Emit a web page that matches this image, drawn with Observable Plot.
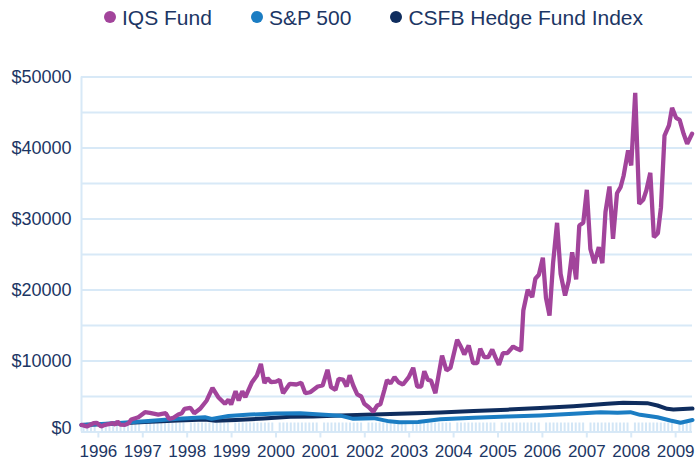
<!DOCTYPE html>
<html>
<head>
<meta charset="utf-8">
<script src="https://cdn.jsdelivr.net/npm/d3@7"></script>
<script src="https://cdn.jsdelivr.net/npm/@observablehq/plot@0.6"></script>
<style>
  html, body { margin: 0; padding: 0; background: #fff; }
  #chart { width: 697px; height: 462px; overflow: hidden; }
  #legend { height: 40px; display: flex; align-items: center; padding-left: 104px;
            font: 21px "Liberation Sans", Arial, sans-serif; color: #1c3664; box-sizing: border-box; }
  .item { display: flex; align-items: center; margin-right: 39px; position: relative; top: -2px; }
  .dot { width: 12px; height: 12px; border-radius: 50%; margin-right: 6px; position: relative; top: -1px; }
  .label { display: inline-block; white-space: nowrap; }
  svg { display: block; }
</style>
</head>
<body>
<div id="chart">
  <div id="legend"></div>
  <div id="plot"></div>
</div>
<script>
// ---- Series names & colours ----
const seriesNames = ["IQS Fund", "S&P 500", "CSFB Hedge Fund Index"];
const seriesColors = ["#a2449b", "#1b7dc3", "#0f2d5e"];

// ---- IQS Fund (decimal year, value $) ----
const iqsYears = [1995.62,1995.74,1995.89,1995.96,1996.06,1996.15,1996.26,1996.32,1996.38,1996.43,1996.49,1996.60,1996.68,1996.74,1996.83,1996.90,1997.05,1997.16,1997.35,1997.43,1997.52,1997.59,1997.69,1997.80,1997.88,1997.94,1998.07,1998.16,1998.29,1998.44,1998.57,1998.70,1998.85,1998.93,1998.99,1999.09,1999.16,1999.24,1999.31,1999.46,1999.57,1999.66,1999.74,1999.81,1999.89,2000.00,2000.08,2000.16,2000.31,2000.46,2000.57,2000.66,2000.77,2000.94,2001.05,2001.16,2001.24,2001.34,2001.41,2001.51,2001.59,2001.66,2001.74,2001.83,2001.92,2001.99,2002.09,2002.19,2002.28,2002.35,2002.44,2002.50,2002.58,2002.67,2002.76,2002.86,2002.99,2003.09,2003.18,2003.27,2003.34,2003.42,2003.49,2003.59,2003.74,2003.84,2003.93,2004.08,2004.17,2004.24,2004.34,2004.44,2004.53,2004.60,2004.69,2004.78,2004.87,2004.94,2005.02,2005.11,2005.21,2005.34,2005.43,2005.52,2005.57,2005.67,2005.77,2005.84,2005.92,2006.01,2006.08,2006.16,2006.24,2006.33,2006.41,2006.51,2006.59,2006.67,2006.76,2006.83,2006.92,2007.00,2007.08,2007.17,2007.27,2007.35,2007.42,2007.51,2007.59,2007.68,2007.76,2007.83,2007.93,2008.00,2008.09,2008.18,2008.27,2008.34,2008.43,2008.51,2008.60,2008.67,2008.75,2008.85,2008.92,2009.01,2009.09,2009.18,2009.26,2009.37];
const iqsValues = [1000,780,1240,1300,780,1010,1150,1240,1050,1480,1050,1010,1240,1760,1940,2080,2790,2700,2460,2560,2650,1860,2000,2460,2650,3270,3410,2650,3270,4440,6230,4900,3970,4540,3870,5750,4440,5750,4900,7010,7960,9600,6870,7580,7010,7100,7350,5460,6790,6690,6930,5460,5600,6410,6550,8760,6310,5940,7490,7390,6410,8000,6550,5300,5000,3970,3490,2850,3730,3900,5900,7300,6850,7720,7010,6690,7720,9040,6410,6410,8560,7350,7250,5460,10770,8660,9040,12990,11940,10920,12180,9690,9690,11720,10540,10540,11620,10540,9460,11100,11100,12040,11720,11480,17110,20030,18990,21580,22140,24540,18900,16410,23780,29460,22280,19230,21240,25320,21480,29080,29460,34110,25800,23780,26030,23780,30960,34580,27210,33630,34480,36130,39650,37540,47770,32140,32700,34010,36510,27440,28000,31660,41760,43170,45660,44250,43970,42000,40590,42000];

// ---- S&P 500 ----
const spYears = [1995.62,1996.29,1997.05,1997.80,1998.40,1998.55,1998.93,1999.42,1999.99,2000.55,2001.00,2001.45,2001.74,2002.20,2002.55,2002.78,2003.20,2003.70,2004.45,2005.21,2005.95,2006.70,2007.31,2007.69,2007.98,2008.20,2008.59,2008.88,2009.11,2009.38];
const spValues = [1000,1200,1500,1850,2080,1850,2250,2450,2600,2650,2450,2300,1850,1950,1500,1380,1400,1800,2000,2180,2320,2560,2790,2700,2790,2420,2080,1620,1300,1700];

// ---- CSFB Hedge Fund Index ----
const csfbYears = [1995.62,1996.29,1997.05,1997.80,1998.40,1998.64,1999.09,1999.72,2000.32,2000.84,2001.45,2002.19,2002.96,2003.70,2004.45,2005.21,2005.95,2006.70,2007.46,2007.82,2008.36,2008.59,2008.81,2008.95,2009.38];
const csfbValues = [1000,1150,1400,1620,1750,1600,1700,1900,2150,2200,2320,2450,2600,2750,2950,3150,3380,3630,3970,4110,4060,3730,3270,3170,3300];

// ---- Axis ticks ----
const yearTicks = [1996,1997,1998,1999,2000,2001,2002,2003,2004,2005,2006,2007,2008,2009];
const yTicks = [10000,20000,30000,40000,50000];
const yZeroTick = [0];
const gridValues = [0,5000,10000,15000,20000,25000,30000,35000,40000,45000,50000];

const textColor = "#1c3664";
const gridColor = "#d8e9f7";
const xDomain = [1995.62, 2009.38];

// monthly minor ticks (non-January)
const minorTicks = [];
for (let y = 1995; y <= 2009; y++) for (let m = 1; m < 12; m++) {
  const v = y + m / 12;
  if (v >= xDomain[0] && v <= xDomain[1]) minorTicks.push(v);
}

const toRows = (xs, vs) => xs.map((x, i) => ({x, v: vs[i]}));
const iqs = toRows(iqsYears, iqsValues);
const sp = toRows(spYears, spValues);
const csfb = toRows(csfbYears, csfbValues);

// Legend
const legend = document.getElementById("legend");
seriesNames.forEach((n, i) => {
  const it = document.createElement("div"); it.className = "item";
  const d = document.createElement("span"); d.className = "dot"; d.style.background = seriesColors[i];
  const l = document.createElement("span"); l.className = "label"; l.textContent = n;
  it.appendChild(d); it.appendChild(l); legend.appendChild(it);
});

const W = 697, H = 422, mt = 36.5, mb = 30.5;
const innerH = H - mt - mb;
const fmt = d => "$" + d;

const chart = Plot.plot({
  width: W, height: H,
  marginLeft: 81, marginRight: 5, marginTop: mt, marginBottom: mb,
  x: {domain: xDomain, label: null},
  y: {domain: [0, 50000], label: null},
  style: {fontFamily: "'Liberation Sans', Arial, sans-serif", color: textColor, background: "white"},
  marks: [
    Plot.ruleY(gridValues, {stroke: gridColor, strokeWidth: 2}),
    Plot.ruleX(minorTicks, {stroke: "#d3e6f6", strokeWidth: 2, insetTop: innerH - 9}),
    Plot.ruleX([xDomain[0]], {stroke: gridColor, strokeWidth: 2}),
    Plot.axisX({ticks: yearTicks, label: null, tickSize: 6, tickPadding: 7, tickFormat: d => String(d), fontSize: 17, stroke: gridColor, strokeWidth: 2, fill: textColor}),
    Plot.axisY({ticks: yTicks, label: null, tickSize: 0, tickPadding: 10, tickFormat: fmt, fontSize: 18, fill: textColor}),
    Plot.axisY({ticks: yZeroTick, label: null, tickSize: 0, tickPadding: 10, tickFormat: fmt, fontSize: 18, fill: textColor, dy: -4}),
    Plot.line(csfb, {x: "x", y: "v", stroke: seriesColors[2], strokeWidth: 4, curve: "linear"}),
    Plot.line(sp, {x: "x", y: "v", stroke: seriesColors[1], strokeWidth: 4, curve: "linear"}),
    Plot.line(iqs, {x: "x", y: "v", stroke: seriesColors[0], strokeWidth: 4.3, strokeLinejoin: "miter", curve: "linear"})
  ]
});
document.getElementById("plot").appendChild(chart);
</script>
</body>
</html>
